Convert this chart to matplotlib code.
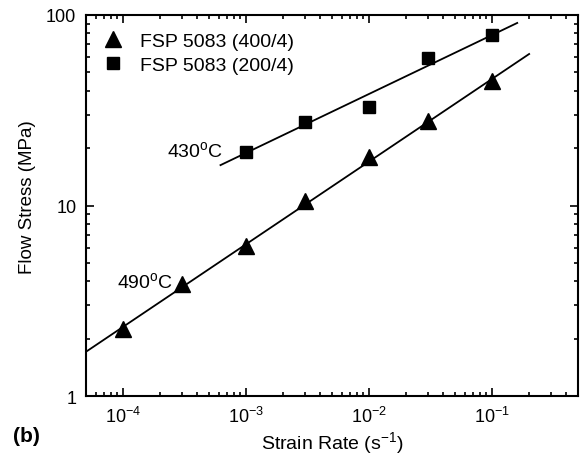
import matplotlib
matplotlib.use("Agg")
import matplotlib.pyplot as plt

plt.rcParams['font.family'] = ['Liberation Sans', 'DejaVu Sans']
plt.rcParams['mathtext.fontset'] = 'custom'
plt.rcParams['mathtext.rm'] = 'Liberation Sans'
plt.rcParams['mathtext.it'] = 'Liberation Sans'
plt.rcParams['mathtext.default'] = 'regular'

# Data
rate_400 = [1e-4, 3e-4, 1e-3, 3e-3, 1e-2, 3e-2, 1e-1]
stress_400 = [2.25, 3.9, 6.1, 10.6, 18.0, 27.8, 45.0]
rate_200 = [1e-3, 3e-3, 1e-2, 3e-2, 1e-1]
stress_200 = [19.2, 27.5, 33.0, 59.5, 78.5]

# Fit lines (end points)
fit_rate_400 = [5e-5, 0.2]
fit_stress_400 = [1.71, 62.4]
fit_rate_200 = [6.2e-4, 0.16]
fit_stress_200 = [16.3, 90.8]

fig = plt.figure(figsize=(5.81, 4.56), dpi=100)
ax = fig.add_axes([0.148, 0.129, 0.847, 0.836])

ax.plot(fit_rate_400, fit_stress_400, color='black', lw=1.3)
ax.plot(fit_rate_200, fit_stress_200, color='black', lw=1.3)
ax.plot(rate_400, stress_400, '^', color='black', ms=11, label='FSP 5083 (400/4)')
ax.plot(rate_200, stress_200, 's', color='black', ms=9, label='FSP 5083 (200/4)')

ax.set_xscale('log')
ax.set_yscale('log')
ax.set_xlim(5e-5, 0.5)
ax.set_ylim(1, 100)
ax.set_yticks([1, 10, 100])
ax.set_yticklabels(['1', '10', '100'])

ax.tick_params(which='both', direction='in', top=True, right=True, labelsize=13, width=1.2)
ax.tick_params(which='major', length=6, pad=7)
ax.tick_params(which='minor', length=3)
for s in ax.spines.values():
    s.set_linewidth(1.5)

ax.set_xlabel('Strain Rate (s$^{-1}$)', fontsize=14, labelpad=2)
ax.set_ylabel('Flow Stress (MPa)', fontsize=13.5)
ax.yaxis.set_label_coords(-0.102, 0.526)

ax.text(6.5e-4, 17.3, '430$^{o}$C', fontsize=14, ha='right', va='bottom')
ax.text(2.55e-4, 3.55, '490$^{o}$C', fontsize=14, ha='right', va='bottom')
fig.text(0.022, 0.03, '(b)', fontsize=15, fontweight='bold')

ax.legend(loc='upper left', frameon=False, fontsize=14, handletextpad=0.9,
          borderaxespad=0.5, labelspacing=0.3, handlelength=1.0)

fig.savefig('out.png', dpi=100)
